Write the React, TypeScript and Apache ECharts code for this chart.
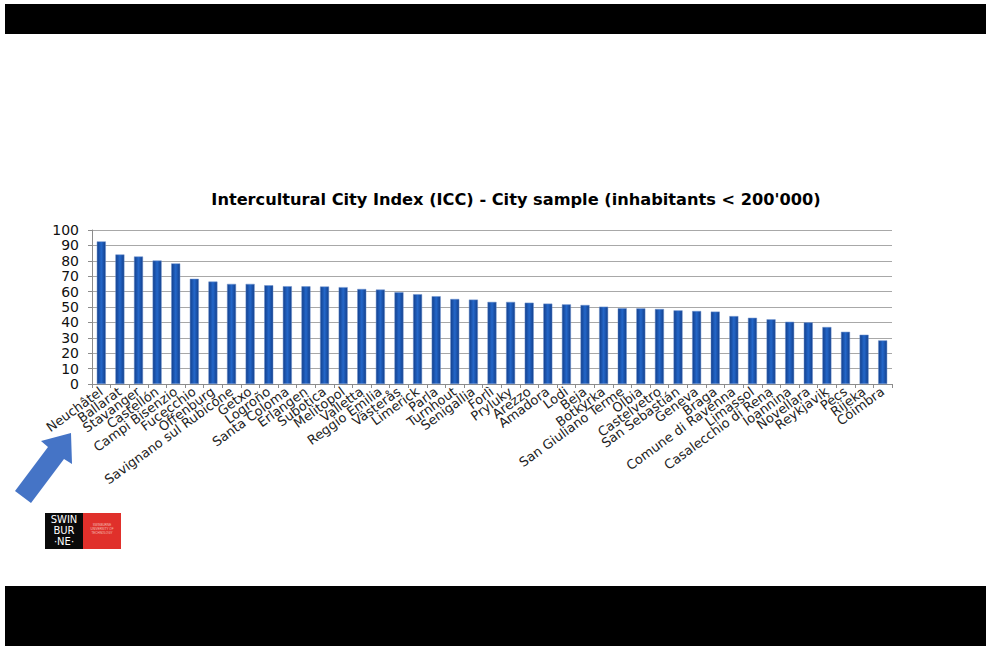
import React, { useEffect, useRef } from "react";
import * as echarts from "echarts";

const cities = [
  "Neuchâtel", "Ballarat", "Stavanger", "Castellón", "Campi Bisenzio", "Fucecchio",
  "Offenburg", "Savignano sul Rubicone", "Getxo", "Logroño", "Santa Coloma", "Erlangen",
  "Subotica", "Melitopol", "Valletta", "Reggio Emilia", "Västerås", "Limerick", "Parla",
  "Turnhout", "Senigallia", "Forlì", "Pryluky", "Arezzo", "Amadora", "Lodi", "Beja",
  "Botkyrka", "San Giuliano Terme", "Olbia", "Castelvetro", "San Sebastián", "Geneva",
  "Braga", "Comune di Ravenna", "Limassol", "Casalecchio di Rena", "Ioannina", "Novellara",
  "Reykjavik", "Pécs", "Rijeka", "Coimbra",
];

const iccValues = [
  92.6, 84.1, 82.8, 80.2, 78.3, 68.3, 66.5, 65.0, 65.0, 64.1, 63.5, 63.4,
  63.3, 62.9, 61.7, 61.3, 59.6, 58.3, 57.0, 55.2, 54.8, 53.3, 53.3, 52.8, 52.2,
  51.7, 51.3, 50.2, 49.2, 49.1, 48.7, 47.8, 47.4, 47.0, 44.1, 43.0, 42.0, 40.4,
  40.0, 37.0, 33.9, 32.0, 28.3,
];

const titleText = "Intercultural City Index (ICC) - City sample (inhabitants < 200'000)";

export default function App() {
  const ref = useRef<HTMLDivElement>(null);
  useEffect(() => {
    if (!ref.current) return;
    const chart = echarts.init(ref.current, undefined, { renderer: "svg" });
    const wide = "'DejaVu Sans', Verdana, sans-serif";
    chart.setOption({
      animation: false,
      backgroundColor: "#ffffff",
      title: {
        text: titleText,
        left: 511,
        top: 186,
        textAlign: "center",
        textStyle: { fontFamily: wide, fontSize: 16.2, fontWeight: "bold", color: "#000" },
      },
      grid: { left: 92, right: 94, top: 230, bottom: 268, containLabel: false },
      xAxis: {
        type: "category",
        data: cities,
        axisLine: { lineStyle: { color: "#8c8c8c", width: 1 } },
        axisTick: { show: true, alignWithLabel: false, length: 4, lineStyle: { color: "#8c8c8c" } },
        axisLabel: {
          interval: 0,
          rotate: 36,
          margin: 6,
          fontFamily: wide,
          fontSize: 13,
          color: "#222",
        },
      },
      yAxis: {
        type: "value",
        min: 0,
        max: 100,
        interval: 10,
        axisLine: { show: true, lineStyle: { color: "#8c8c8c" } },
        axisTick: { show: true, length: 4, lineStyle: { color: "#8c8c8c" } },
        splitLine: { show: true, lineStyle: { color: "#a8a8a8", width: 1 } },
        axisLabel: { fontFamily: wide, fontSize: 14, lineHeight: 14, color: "#111", margin: 13 },
      },
      series: [
        {
          type: "bar",
          data: iccValues,
          barWidth: 9,
          itemStyle: {
            color: new echarts.graphic.LinearGradient(0, 0, 1, 0, [
              { offset: 0, color: "#123f8c" },
              { offset: 0.5, color: "#2467c9" },
              { offset: 1, color: "#123f8c" },
            ]),
            borderColor: "#6f93cf",
            borderWidth: 0.5,
          },
        },
      ],
      graphic: [
        { type: "rect", shape: { x: 5, y: 4, width: 981, height: 30 }, style: { fill: "#000" }, z: 100 },
        { type: "rect", shape: { x: 5, y: 586, width: 981, height: 60 }, style: { fill: "#000" }, z: 100 },
        {
          type: "polygon",
          shape: {
            points: [
              [15, 491], [48, 447], [41, 441], [71, 433], [72, 464], [64, 459], [31, 503],
            ],
          },
          style: { fill: "#4574c6" },
          z: 100,
        },
        { type: "rect", shape: { x: 45, y: 513, width: 38, height: 36 }, style: { fill: "#0a0a0a" }, z: 100 },
        { type: "rect", shape: { x: 83, y: 513, width: 38, height: 36 }, style: { fill: "#e0302b" }, z: 100 },
        {
          type: "text",
          x: 64,
          y: 514,
          z: 101,
          style: {
            text: "SWIN\nBUR\n·NE·",
            fill: "#fff",
            font: "10px 'DejaVu Sans', sans-serif",
            align: "center",
            lineHeight: 11,
          },
        },
        {
          type: "text",
          x: 102,
          y: 523,
          z: 101,
          style: {
            text: "SWINBURNE\nUNIVERSITY OF\nTECHNOLOGY",
            fill: "#f4c0bc",
            font: "3px Arial, sans-serif",
            align: "center",
            lineHeight: 4,
          },
        },
      ],
    });
    return () => chart.dispose();
  }, []);
  return (
    <div
      ref={ref}
      style={{ position: "absolute", left: 0, top: 0, width: 986, height: 652, background: "#fff" }}
    />
  );
}
